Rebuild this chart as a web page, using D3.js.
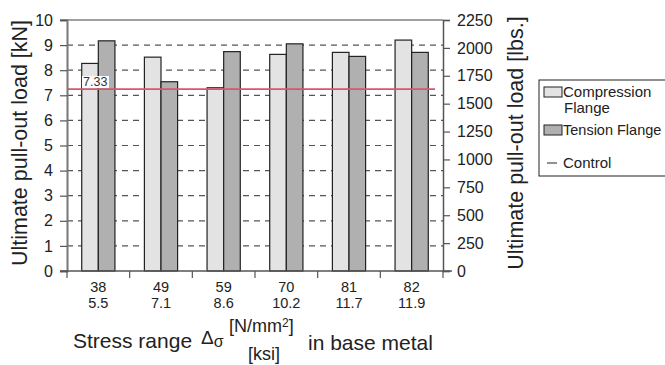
<!DOCTYPE html>
<html>
<head>
<meta charset="utf-8">
<script src="https://cdn.jsdelivr.net/npm/d3@7"></script>
<style>
  body { margin: 0; background: #fff; }
  text { font-family: "Liberation Sans", Arial, sans-serif; fill: #222; }
</style>
</head>
<body>
<div id="chart"></div>
<script>
// chart data
var stressSI = ["38", "49", "59", "70", "81", "82"];
var stressKsi = ["5.5", "7.1", "8.6", "10.2", "11.7", "11.9"];
var compression = [8.27, 8.52, 7.30, 8.63, 8.71, 9.20];
var tension = [9.17, 7.54, 8.74, 9.05, 8.55, 8.71];
var control = 7.25;
var controlLabel = "7.33";
var kNTicks = [0, 1, 2, 3, 4, 5, 6, 7, 8, 9, 10];
var lbsTicks = [0, 250, 500, 750, 1000, 1250, 1500, 1750, 2000, 2250];
var seriesNames = ["Compression", "Tension"];

var W = 665, H = 365;
var margin = { top: 20, left: 67, right: 222, bottom: 94 };
var width = W - margin.left - margin.right,
    height = H - margin.top - margin.bottom;

var svg = d3.select("#chart").append("svg")
    .attr("width", W).attr("height", H);
var g = svg.append("g")
    .attr("transform", "translate(" + margin.left + "," + margin.top + ")");

var x0 = d3.scaleBand().domain(stressSI).range([0, width])
    .paddingInner(0.47).paddingOuter(0.235);
var x1 = d3.scaleBand().domain(seriesNames).range([0, x0.bandwidth()]);
var y = d3.scaleLinear().domain([0, 10]).range([height, 0]);
var yLbs = d3.scaleLinear().domain([0, 2250]).range([height, 0]);
var colors = { Compression: "#e3e3e3", Tension: "#b0b0b0" };

// grid lines
g.append("g").selectAll("line")
    .data(kNTicks.filter(function (d) { return d > 0 && d < 10; }))
    .enter().append("line")
    .attr("x1", 0).attr("x2", width)
    .attr("y1", function (d) { return y(d); })
    .attr("y2", function (d) { return y(d); })
    .attr("stroke", "#555").attr("stroke-width", 1.2)
    .attr("stroke-dasharray", "6,5");

// top border
g.append("line").attr("x1", -7).attr("x2", width).attr("y1", 0).attr("y2", 0)
    .attr("stroke", "#808080").attr("stroke-width", 1.5);

// bars
var groups = g.append("g").selectAll("g")
    .data(stressSI)
    .enter().append("g")
    .attr("transform", function (d) { return "translate(" + x0(d) + ",0)"; });
groups.selectAll("rect")
    .data(function (d, i) {
        return [{ k: "Compression", v: compression[i] }, { k: "Tension", v: tension[i] }];
    })
    .enter().append("rect")
    .attr("x", function (d) { return x1(d.k); })
    .attr("width", x1.bandwidth())
    .attr("y", function (d) { return y(d.v); })
    .attr("height", function (d) { return height - y(d.v); })
    .attr("fill", function (d) { return colors[d.k]; })
    .attr("stroke", "#222").attr("stroke-width", 1.2);

// control line
g.append("line")
    .attr("x1", 0).attr("x2", width - 8)
    .attr("y1", y(control)).attr("y2", y(control))
    .attr("stroke", "#d9566b").attr("stroke-width", 1.8);
g.append("rect")
    .attr("x", 15).attr("y", y(control) - 13).attr("width", 27).attr("height", 12)
    .attr("fill", "#fff");
g.append("text")
    .attr("x", 16).attr("y", y(control) - 3)
    .style("font-size", "12.5px").style("fill", "#333")
    .text(controlLabel);

// left axis
var yAxis = g.append("g")
    .call(d3.axisLeft(y).tickValues(kNTicks).tickSize(7).tickPadding(7));
yAxis.selectAll("text").style("font-size", "16px").style("fill", "#222");
yAxis.selectAll("line").attr("stroke", "#555").attr("stroke-width", 1.2);
yAxis.select(".domain").attr("stroke", "#777").attr("stroke-width", 2);

// right axis
var yAxisR = g.append("g")
    .attr("transform", "translate(" + width + ",0)")
    .call(d3.axisRight(yLbs).tickValues(lbsTicks).tickSize(7).tickPadding(7)
        .tickFormat(d3.format("d")));
yAxisR.selectAll("text").style("font-size", "16px").style("fill", "#222");
yAxisR.selectAll("line").attr("stroke", "#555").attr("stroke-width", 1.2);
yAxisR.select(".domain").attr("stroke", "#555").attr("stroke-width", 1.5);

// x axis
g.append("line").attr("x1", -7).attr("x2", width + 9)
    .attr("y1", height).attr("y2", height)
    .attr("stroke", "#555").attr("stroke-width", 1.5);
var step = x0.step();
g.append("g").selectAll("line")
    .data(d3.range(stressSI.length + 1))
    .enter().append("line")
    .attr("x1", function (i) { return i * step; })
    .attr("x2", function (i) { return i * step; })
    .attr("y1", height).attr("y2", height + 7)
    .attr("stroke", "#555").attr("stroke-width", 1.2);
var xl = g.append("g").selectAll("text")
    .data(stressSI)
    .enter().append("text")
    .attr("x", function (d) { return x0(d) + x0.bandwidth() / 2; })
    .attr("text-anchor", "middle")
    .style("font-size", "14.5px");
xl.append("tspan").attr("y", height + 21).text(function (d) { return d; });
xl.append("tspan")
    .attr("x", function (d) { return x0(d) + x0.bandwidth() / 2; })
    .attr("y", height + 37)
    .text(function (d, i) { return stressKsi[i]; });

// x title
svg.append("text").attr("x", 73).attr("y", 348).style("font-size", "21px")
    .text("Stress range");
var xd = svg.append("text").attr("x", 201).attr("y", 344).style("font-size", "19px");
xd.append("tspan").text("\u0394");
xd.append("tspan").attr("dy", 3).style("font-size", "16px").text("\u03c3");
var xu = svg.append("text").attr("x", 229).attr("y", 332).style("font-size", "18px");
xu.append("tspan").text("[N/mm");
xu.append("tspan").attr("dy", -5).style("font-size", "12px").text("2");
xu.append("tspan").attr("dy", 5).text("]");
svg.append("text").attr("x", 264).attr("y", 360).attr("text-anchor", "middle")
    .style("font-size", "18px").text("[ksi]");
svg.append("text").attr("x", 308).attr("y", 350).style("font-size", "21px")
    .text("in base metal");

// y titles
svg.append("text")
    .attr("transform", "translate(27,143) rotate(-90)")
    .attr("text-anchor", "middle").style("font-size", "21.5px")
    .text("Ultimate pull-out load [kN]");
svg.append("text")
    .attr("transform", "translate(523,143) rotate(-90)")
    .attr("text-anchor", "middle").style("font-size", "21.5px")
    .text("Ultimate pull-out load [lbs.]");

// legend
var lg = svg.append("g").attr("transform", "translate(539,80)");
lg.append("rect").attr("x", 0).attr("y", 0).attr("width", 140).attr("height", 96)
    .attr("fill", "#fff").attr("stroke", "#222").attr("stroke-width", 1);
lg.append("rect").attr("x", 5).attr("y", 7).attr("width", 18).attr("height", 10)
    .attr("fill", colors.Compression).attr("stroke", "#222");
lg.append("text").attr("x", 24).attr("y", 17).style("font-size", "15px").text("Compression");
lg.append("text").attr("x", 25).attr("y", 33).style("font-size", "15px").text("Flange");
lg.append("rect").attr("x", 5).attr("y", 45).attr("width", 18).attr("height", 10)
    .attr("fill", colors.Tension).attr("stroke", "#222");
lg.append("text").attr("x", 24).attr("y", 55).style("font-size", "14.5px").text("Tension Flange");
lg.append("line").attr("x1", 8).attr("x2", 18).attr("y1", 83).attr("y2", 83)
    .attr("stroke", "#222").attr("stroke-width", 1);
lg.append("text").attr("x", 24).attr("y", 88).style("font-size", "15px").text("Control");
</script>
</body>
</html>
